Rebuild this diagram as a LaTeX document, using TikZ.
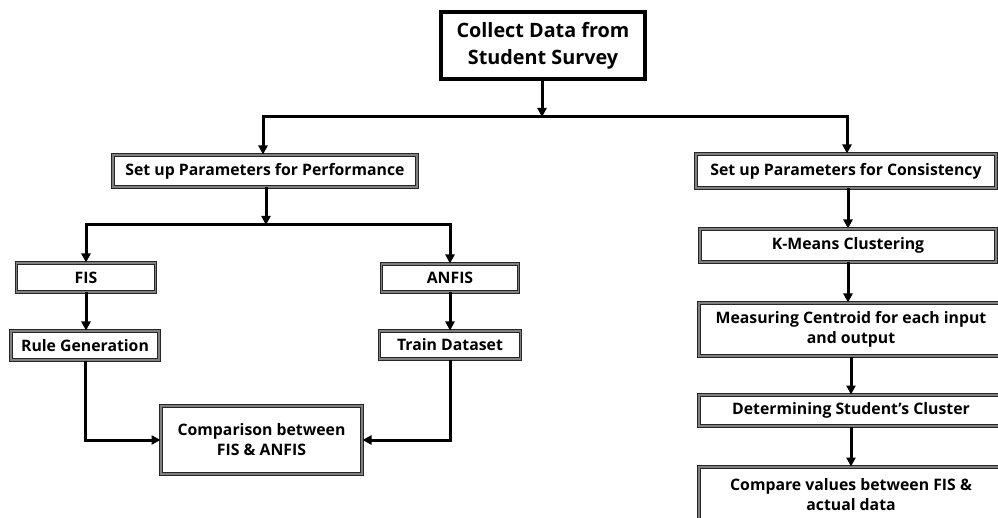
\documentclass[tikz,border=0pt]{standalone}
\usepackage{fontspec}
\setmainfont{Open Sans}
\usetikzlibrary{arrows.meta}
\begin{document}
\begin{tikzpicture}[x=1pt,y=-1pt,
  box/.style={draw=black!85, line width=1pt, double=black!50, double distance=1.4pt,
    fill=white, inner sep=0pt, align=center, font=\fontsize{15.8}{20}\selectfont\bfseries},
  topbox/.style={draw=black, line width=3.5pt, fill=white, inner sep=0pt, align=center,
    font=\fontsize{19.8}{27}\selectfont\bfseries},
  arr/.style={line width=3pt, -{Triangle[length=9pt,width=9pt]}}]
\useasboundingbox (0,0) rectangle (998,518);
\clip (0,0) rectangle (998,518);
\node[topbox, minimum width=204pt, minimum height=67pt] (top) at (543,45.5) {Collect Data from\\Student Survey};
\node[box, minimum width=304pt, minimum height=32pt] (perf) at (265,171) {Set up Parameters for Performance};
\node[box, minimum width=300pt, minimum height=34pt] (cons) at (846,171) {Set up Parameters for Consistency};
\node[box, minimum width=139pt, minimum height=29pt] (fis) at (86,277.5) {FIS};
\node[box, minimum width=137pt, minimum height=28pt] (anfis) at (450,278) {ANFIS};
\node[box, minimum width=148pt, minimum height=29pt] (rule) at (85,345.5) {Rule Generation};
\node[box, minimum width=141pt, minimum height=28pt] (train) at (450,345) {Train Dataset};
\node[box, minimum width=201pt, minimum height=68pt] (comp) at (261.5,440) {Comparison between\\FIS \& ANFIS};
\node[box, minimum width=296pt, minimum height=33pt] (km) at (848,245.5) {K-Means Clustering};
\node[box, minimum width=304pt, minimum height=53pt] (meas) at (851,329.5) {Measuring Centroid for each input\\and output};
\node[box, minimum width=304pt, minimum height=31pt] (det) at (851,410.5) {Determining Student’s Cluster};
\node[box, minimum width=304pt, minimum height=56pt] (cmpv) at (851,495) {Compare values between FIS \&\\actual data};
% connectors
\coordinate (j1) at (542,117);
\coordinate (j2) at (266,225);
\draw[arr] (top.south -| j1) -- (j1);
\draw[arr] (j1) -| (perf.north -| 263,0);
\draw[arr] (j1) -| (cons.north -| 847,0);
\draw[arr] (perf.south -| j2) -- (j2);
\draw[arr] (j2) -| (fis.north);
\draw[arr] (j2) -| (anfis.north);
\draw[arr] (fis.south) -- (rule.north -| fis.south);
\draw[arr] (anfis.south) -- (train.north);
\draw[arr] (rule.south) |- (comp.west);
\draw[arr] (train.south) |- (comp.east);
\draw[arr] (cons.south -| km.north) -- (km.north);
\draw[arr] (km.south) -- (meas.north -| km.south);
\draw[arr] (meas.south) -- (det.north);
\draw[arr] (det.south) -- (cmpv.north);
\end{tikzpicture}
\end{document}
